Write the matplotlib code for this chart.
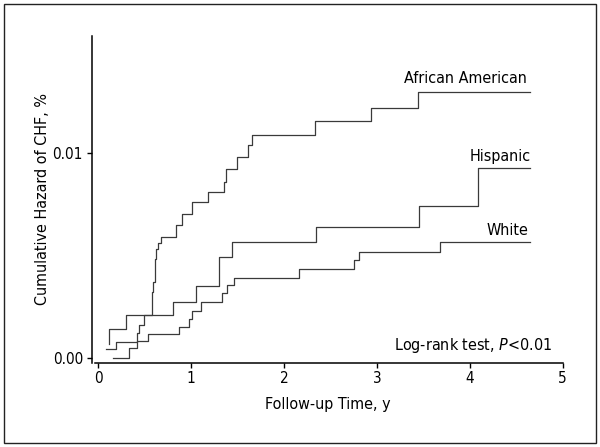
import matplotlib
matplotlib.use("Agg")
import matplotlib.pyplot as plt
from matplotlib.patches import Rectangle

plt.rcParams['font.family'] = ['DejaVu Sans']
plt.rcParams['font.stretch'] = 'condensed'
plt.rcParams['mathtext.fontset'] = 'custom'
plt.rcParams['mathtext.it'] = 'DejaVu Sans:italic:stretch=condensed'
plt.rcParams['mathtext.rm'] = 'DejaVu Sans:stretch=condensed'

# step curves: (time in years, cumulative hazard)
aa_t = [0.12, 0.12, 0.30, 0.585, 0.595, 0.61, 0.625, 0.645, 0.675, 0.84, 0.905,
        1.01, 1.18, 1.35, 1.38, 1.49, 1.61, 1.655, 2.33, 2.94, 3.44, 4.65]
aa_h = [0.00065, 0.0014, 0.0021, 0.0032, 0.0037, 0.0048, 0.0053, 0.0056, 0.0059,
        0.0065, 0.0070, 0.0076, 0.0081, 0.0086, 0.0092, 0.0098, 0.0104, 0.0109,
        0.01155, 0.0122, 0.0130, 0.0130]

hisp_t = [0.082, 0.19, 0.42, 0.445, 0.49, 0.81, 1.055, 1.305, 1.44, 2.34, 3.45,
          4.09, 4.65]
hisp_h = [0.00041, 0.00078, 0.00119, 0.0016, 0.0021, 0.00274, 0.0035, 0.0049,
          0.00564, 0.00637, 0.00743, 0.00925, 0.00925]

white_t = [0.164, 0.336, 0.415, 0.54, 0.875, 0.975, 1.015, 1.11, 1.338, 1.384,
           1.465, 2.165, 2.752, 2.81, 3.68, 4.65]
white_h = [0.0, 0.00048, 0.00080, 0.00114, 0.0015, 0.0019, 0.0023, 0.00274,
           0.00314, 0.00354, 0.00388, 0.00432, 0.00477, 0.00515, 0.00563, 0.00563]

x_ticks = [0, 1, 2, 3, 4, 5]
y_ticks = [0.0, 0.01]
y_tick_labels = ['0.00', '0.01']

fig = plt.figure(figsize=(6.0, 4.47), dpi=100)
ax = fig.add_axes([0.1533, 0.188, 0.938 - 0.1533, 0.9195 - 0.188])

line_kw = dict(drawstyle='steps-post', color='#3a3a3a', lw=0.9)
ax.plot(aa_t, aa_h, **line_kw)
ax.plot(hisp_t, hisp_h, **line_kw)
ax.plot(white_t, white_h, **line_kw)

ax.set_xlim(-0.066, 5.0)
ax.set_ylim(-0.00026, 0.01572)
ax.spines['top'].set_visible(False)
ax.spines['right'].set_visible(False)
for s in ('left', 'bottom'):
    ax.spines[s].set_linewidth(1.1)
ax.spines['bottom'].set_bounds(-0.03, 5)

ax.set_xticks(x_ticks)
ax.set_yticks(y_ticks)
ax.set_yticklabels(y_tick_labels)
ax.tick_params(direction='out', length=3.5, width=1.0, labelsize=11)
ax.tick_params(axis='y', pad=3)
ax.tick_params(axis='x', pad=2.5)

ax.set_xlabel('Follow-up Time, y', fontsize=11.5, labelpad=8)
ax.set_ylabel('Cumulative Hazard of CHF, %', fontsize=11.5, labelpad=2)

lab_kw = dict(ha='right', va='center', fontsize=11.5)
ax.text(4.61, 0.01362, 'African American', **lab_kw)
ax.text(4.66, 0.00982, 'Hispanic', **lab_kw)
ax.text(4.63, 0.00620, 'White', **lab_kw)
ax.text(4.89, 0.00057, 'Log-rank test, $\\it{P}$<0.01', **lab_kw)

fig.patches.append(Rectangle((0.006, 0.01), 0.988, 0.98, transform=fig.transFigure,
                             fill=False, edgecolor='#222222', lw=1.0))

fig.savefig('out.png', dpi=100)
